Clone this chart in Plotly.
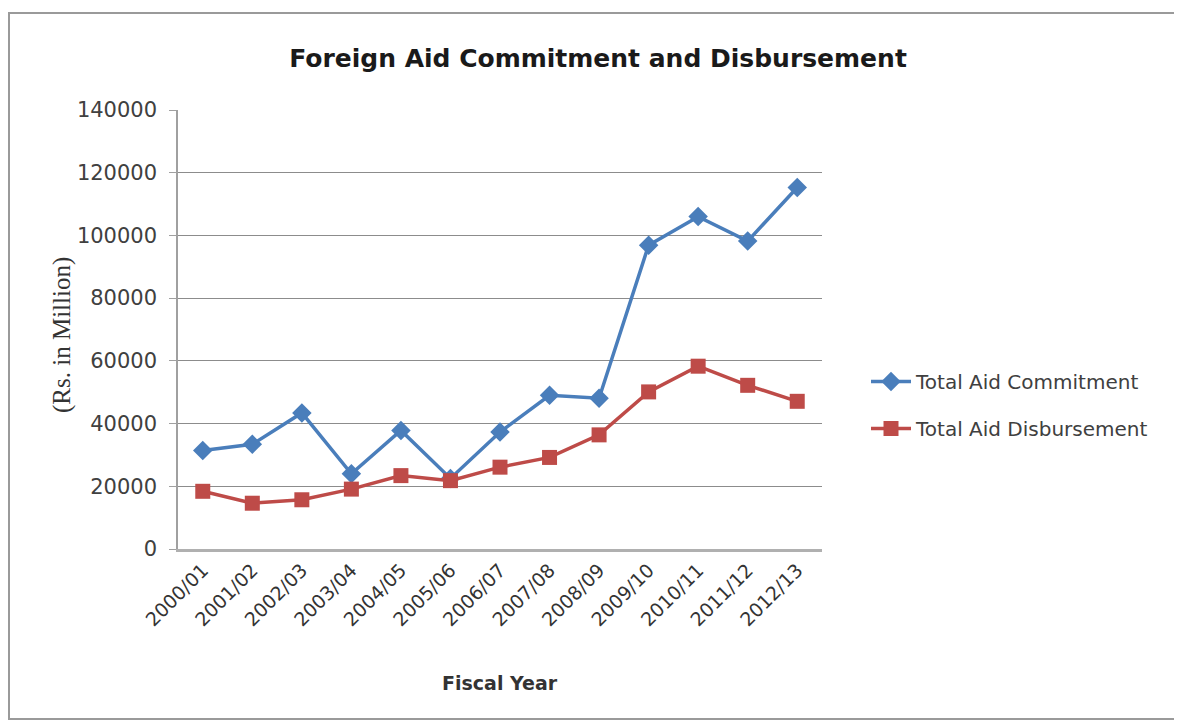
import plotly.graph_objects as go

years = ["2000/01", "2001/02", "2002/03", "2003/04", "2004/05", "2005/06", "2006/07",
         "2007/08", "2008/09", "2009/10", "2010/11", "2011/12", "2012/13"]
commitment = [31400, 33400, 43400, 24000, 37800, 22500, 37300,
              49000, 48100, 96900, 106000, 98200, 115300]
disbursement = [18400, 14600, 15700, 19100, 23400, 21800, 26100,
                29200, 36400, 50100, 58300, 52200, 47100]
y_ticks = [0, 20000, 40000, 60000, 80000, 100000, 120000, 140000]

BLUE = "#4a7ebb"
RED = "#be4b48"
FONT = "DejaVu Sans, Verdana, sans-serif"

fig = go.Figure()
fig.add_trace(go.Scatter(
    x=years, y=commitment, name="Total Aid Commitment", mode="lines+markers",
    line=dict(color=BLUE, width=3.5),
    marker=dict(symbol="diamond", size=15, color=BLUE, line=dict(width=0)),
    legendgroup="a"))
fig.add_trace(go.Scatter(
    x=years, y=disbursement, name="Total Aid Disbursement", mode="lines+markers",
    line=dict(color=RED, width=3.5),
    marker=dict(symbol="square", size=15, color=RED, line=dict(width=0)),
    legendgroup="b"))

# page body adds an 8px offset; design coordinates = screen - 8
W, H = 1174, 714
L, R, T, B = 170, 814, 102, 541

def px(x):
    return (x - L) / (R - L)

def py(y):
    return (B - y) / (B - T)

fig.update_layout(
    width=W, height=H,
    margin=dict(l=L, r=W - R, t=T, b=H - B),
    paper_bgcolor="white", plot_bgcolor="white",
    font=dict(family=FONT, color="#404040"),
    title=dict(text="<b>Foreign Aid Commitment and Disbursement</b>",
               x=590 / W, xanchor="center", y=1 - 50 / H, yanchor="middle",
               font=dict(size=25, color="#1a1a1a", family=FONT)),
    showlegend=True,
    legend=dict(x=px(858), xanchor="left", y=py(397), yanchor="middle",
                font=dict(size=20, color="#404040"), tracegroupgap=18,
                itemwidth=40),
    xaxis=dict(type="category", categoryorder="array", categoryarray=years,
               range=[-0.5, len(years) - 0.5],
               showline=True, linecolor="#b0b0b0", linewidth=2.5,
               showgrid=False, ticks="", tickangle=-45,
               tickfont=dict(size=19, color="#333333")),
    yaxis=dict(range=[0, 140000], tickvals=y_ticks,
               ticktext=[str(v) for v in y_ticks],
               showline=True, linecolor="#a0a0a0", linewidth=1.5,
               showgrid=True, gridcolor="#8c8c8c", gridwidth=1,
               ticks="outside", ticklen=7, tickcolor="#a0a0a0",
               ticklabelstandoff=8,
               tickfont=dict(size=21, color="#404040"), zeroline=False),
    shapes=[dict(type="rect", xref="paper", yref="paper",
                 x0=px(1), x1=px(1171), y0=py(711), y1=py(5),
                 line=dict(color="#9a9a9a", width=2), layer="below")],
    annotations=[
        dict(text="<b>Fiscal Year</b>", xref="paper", yref="paper",
             x=px(492), y=py(675), xanchor="center", yanchor="middle",
             showarrow=False, font=dict(size=19, color="#333333", family=FONT)),
        dict(text="(Rs. in Million)", xref="paper", yref="paper",
             x=px(54), y=py(327), xanchor="center", yanchor="middle",
             textangle=-90, showarrow=False,
             font=dict(size=25, color="#333333",
                       family="Liberation Serif, Times New Roman, serif")),
    ],
)

fig.write_html("out.html")
